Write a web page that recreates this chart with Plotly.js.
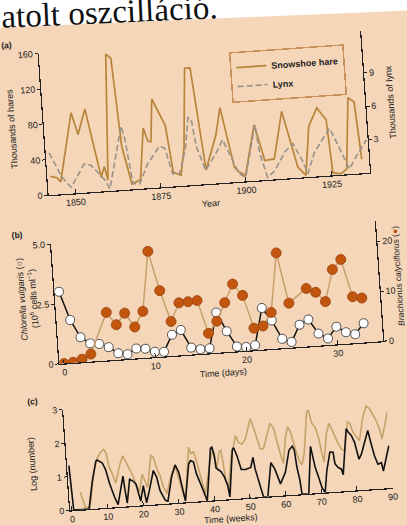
<!DOCTYPE html>
<html>
<head>
<meta charset="utf-8">
<script src="https://cdn.plot.ly/plotly-3.0.1.min.js"></script>
<style>
  html, body { margin: 0; padding: 0; width: 407px; height: 525px; overflow: hidden; background: #ffffff; }
  #chart {
    position: absolute; left: -36.5px; top: -37.5px;
    width: 480px; height: 600px;
    transform: rotate(-4deg); transform-origin: 50% 50%;
  }
</style>
</head>
<body>
<div id="chart"></div>
<script>
// (a) Snowshoe hare and lynx pelts, thousands
const hareYears = [1843, 1845, 1846, 1850.4, 1852, 1854.5, 1857.9, 1859, 1859.8, 1861.7, 1863.1, 1864.5, 1866.7, 1869.3, 1871.1, 1872.2, 1873.1, 1874.2, 1877.6, 1879, 1881.2, 1882.6, 1884.4, 1886, 1888.6, 1892.2, 1893.9, 1896.9, 1898.2, 1900, 1903.5, 1905.9, 1908.7, 1911.8, 1915.4, 1917.6, 1919.4, 1922.1, 1924.6, 1925.5, 1927.8, 1929.6, 1931.4, 1933.1, 1934.2];
const hareThousands = [21, 19, 14, 91, 66, 94, 16, 28, 12, 154, 149, 49, 6, 10, 68, 53, 52, 100, 69, 16, 12, 42, 132, 132, 16, 55, 85, 17, 11, 7, 63, 22, 23, 76, 12, 2, 57, 77, 63, 3, 1, 6, 86, 81, 16];
const lynxYears = [1843.2, 1846.2, 1847.6, 1849, 1850.8, 1853.1, 1855.1, 1857.1, 1859, 1860.2, 1862.2, 1864.7, 1865.6, 1867, 1869, 1871.7, 1875.5, 1877, 1878.8, 1880.8, 1882.9, 1884.4, 1885.3, 1886.2, 1888.5, 1892.4, 1894, 1896.5, 1898.2, 1900, 1903.7, 1904.6, 1906.4, 1908.7, 1911.9, 1914.4, 1916.9, 1918.2, 1920.4, 1922.9, 1925.4, 1927, 1928.9, 1930.4, 1932.5, 1935.1, 1936];
const lynxThousands = [3.8, 1.7, 1.05, 0.57, 1.45, 2.57, 2.44, 1.63, 0.97, 0.18, 2.74, 5.76, 4.5, 0.5, 0.45, 2.2, 3.7, 3.5, 1.15, 1.1, 3.2, 6.1, 5.9, 3.45, 1.25, 3.0, 3.9, 2.0, 0.73, 0.38, 5.0, 2.4, 0.23, 0.8, 2.4, 3.1, 1.5, 0.3, 2.1, 3.2, 4.25, 3.1, 1.7, 0.46, 1.5, 2.66, 3.0];

// (b) Chlorella (10^6 cells/ml) and Brachionus, daily samples
const chlorellaDays = [0, 1, 2, 3, 4, 5, 6, 7, 8, 9, 10, 11, 12, 13, 14, 15, 16, 17, 18, 19, 20, 21, 22, 23, 24, 25, 26, 27, 28, 29, 30, 31, 32, 33];
const chlorellaCells = [3.0, 1.79, 1.04, 0.76, 0.71, 0.55, 0.27, 0.2, 0.41, 0.38, 0.22, 0.2, 0.88, 1.05, 0.29, 0.2, 0.21, 1.68, 0.87, 0.2, 0.16, 0.2, 1.73, 1.18, 0.39, 0.23, 0.93, 1.12, 0.51, 0.27, 0.74, 0.48, 0.37, 0.8];
const brachionusDays = [0, 1, 2, 3, 5, 6, 7, 8, 9, 10, 11, 12, 13, 14, 15, 16, 17, 18, 19, 20, 21, 22, 23, 24, 25, 27, 28, 29, 30, 31, 32, 33];
const brachionusCount = [0, 0.1, 0.6, 1.5, 9.6, 7.0, 9.2, 6.3, 9.3, 21.2, 13.2, 6.9, 10.5, 10.6, 10.7, 4.0, 6.3, 9.9, 13.5, 11.1, 4.4, 4.7, 7.3, 19.1, 8.9, 11.6, 10.7, 8.7, 15.0, 16.9, 9.3, 8.9];

// (c) host and parasitoid, log numbers by week
const hostWeeks = [2.7, 3.5, 3.8, 5.1, 6.9, 7.9, 8.9, 10.0, 10.6, 11.2, 12.0, 12.8, 14.1, 15.2, 16.1, 16.9, 17.7, 18.5, 19.3, 20.3, 20.9, 21.6, 23.1, 23.7, 24.5, 25.3, 26.0, 26.9, 28.1, 29.6, 30.3, 31.0, 31.6, 32.0, 33.8, 34.3, 35.1, 35.7, 36.9, 37.6, 39.6, 40.6, 41.3, 42.3, 42.8, 43.2, 43.6, 44.2, 45.5, 46.4, 47.1, 47.9, 48.8, 49.8, 51.0, 51.6, 52.4, 53.1, 53.8, 54.7, 55.9, 57.0, 57.9, 58.6, 59.3, 60.0, 61.1, 61.9, 62.5, 63.1, 63.8, 64.6, 65.2, 66.0, 67.5, 68.0, 68.7, 69.5, 70.3, 70.9, 71.4, 72.6, 73.5, 74.1, 74.9, 75.7, 76.5, 77.4, 78.7, 79.3, 80.0, 80.9, 81.7, 83.1, 84.2, 85.1, 85.9, 86.7, 87.5, 88.0, 89.2, 90.0];
const hostLog = [0.52, 0.21, 0.06, 0.05, 1.1, 1.45, 1.64, 1.74, 1.63, 1.23, 0.97, 0.72, 1.21, 1.51, 1.3, 1.1, 0.89, 0.59, 0.43, 0.93, 0.73, 0.52, 1.47, 1.41, 1.06, 0.85, 0.5, 0.3, 0.74, 1.13, 0.8, 0.45, 0.2, 0.12, 1.63, 1.43, 1.48, 1.22, 0.51, 0.21, 1.2, 1.5, 0.95, 1.44, 1.47, 0.88, 0.58, 0.28, 1.27, 1.57, 1.87, 1.66, 1.61, 1.75, 2.15, 2.35, 2.04, 1.74, 1.43, 1.43, 1.82, 2.17, 2.01, 1.61, 1.25, 0.95, 1.74, 2.03, 1.88, 1.62, 1.26, 0.96, 0.88, 1.2, 2.44, 2.47, 2.08, 1.97, 1.66, 1.21, 0.9, 1.75, 2.04, 1.89, 1.63, 1.42, 1.26, 1.2, 2.05, 2.0, 1.74, 1.58, 1.47, 2.17, 2.48, 2.4, 2.24, 2.04, 1.78, 1.47, 1.92, 2.26];
const parasitoidWeeks = [0, 0.5, 4.8, 6.2, 7.6, 8.0, 9.4, 10.2, 11.0, 12.1, 13.0, 14.9, 15.2, 15.6, 16.7, 17.6, 18.4, 18.9, 19.4, 20.4, 20.7, 21.0, 22.0, 23.5, 24.3, 25.0, 26.3, 27.0, 28.5, 29.7, 30.6, 31.9, 33.5, 34.1, 34.9, 35.5, 36.8, 37.6, 38.0, 39.9, 40.3, 40.8, 41.1, 41.8, 42.4, 43.2, 44.0, 44.4, 46.0, 46.4, 47.2, 48.1, 49.3, 50.8, 51.6, 52.0, 53.1, 53.8, 55.0, 56.5, 57.5, 58.3, 58.8, 60.4, 61.8, 62.8, 63.3, 63.7, 64.3, 64.6, 66.5, 67.9, 68.2, 68.8, 69.6, 70.3, 71.1, 72.0, 73.2, 74.1, 74.4, 75.2, 76.1, 76.5, 78.2, 78.7, 79.5, 80.3, 81.2, 82.0, 83.1, 84.2, 84.9, 85.6, 86.4, 87.4, 87.8, 88.8, 89.8];
const parasitoidLog = [1.33, 0, 0, 0.8, 1.4, 1.44, 1.34, 1.13, 0.73, 0.32, 0.07, 0.91, 0.5, 0.1, 0.8, 0.74, 0.64, 0.33, 0.13, 0.58, 0.33, 0.07, 0.42, 1.01, 0.81, 0.4, 0.1, 0.07, 0.79, 1.13, 0.9, 0.04, 1.13, 1.23, 1.18, 0.82, 0.41, 0.11, 0, 1.55, 1.58, 1.35, 0.95, 0.89, 0.84, 0.68, 0.43, 0.07, 1.47, 1.52, 1.26, 0.86, 0.85, 0.9, 1.19, 0.84, 0.33, 0, 0, 1.0, 0.8, 0.5, 0.35, 0.69, 1.33, 1.44, 1.32, 0.81, 0.41, 0, 0, 1.4, 1.18, 0.77, 0.46, 0.16, 0, 0.65, 1.19, 1.18, 0.83, 0.72, 0.66, 0.49, 1.85, 1.75, 1.64, 1.43, 0.92, 1.07, 1.41, 1.75, 1.35, 0.99, 0.73, 0.77, 0.52, 0.91, 1.26];

// The figure sheet is drawn tilted; this maps a point on the page (px)
// into paper coordinates of the tilted figure.
const FIG_W = 480, FIG_H = 600, TILT = -4;
const PAGE_CX = 203.5, PAGE_CY = 262.5;
function pagePos(x, y) {
  const a = -TILT * Math.PI / 180;
  const dx = x - PAGE_CX, dy = y - PAGE_CY;
  const ux = Math.cos(a) * dx - Math.sin(a) * dy + FIG_W / 2;
  const uy = Math.sin(a) * dx + Math.cos(a) * dy + FIG_H / 2;
  return [ux / FIG_W, 1 - uy / FIG_H];
}

const INK = '#222222';
const SANS = 'Liberation Sans, Arial, sans-serif';
const PEACH = '#f5d6b8';
const HARE = '#b8853a';
const LYNX = '#99928a';
const ROTIFER = '#c2560f';

const traces = [
  { x: hareYears, y: hareThousands, xaxis: 'x', yaxis: 'y', type: 'scatter', mode: 'lines',
    name: 'Snowshoe hare', line: { color: HARE, width: 1.7 } },
  { x: lynxYears, y: lynxThousands, xaxis: 'x', yaxis: 'y2', type: 'scatter', mode: 'lines',
    name: 'Lynx', line: { color: LYNX, width: 1.6, dash: '6px,3px' } },
  { x: chlorellaDays, y: chlorellaCells, xaxis: 'x2', yaxis: 'y3', type: 'scatter', mode: 'lines+markers',
    showlegend: false, line: { color: '#111', width: 1.5 },
    marker: { symbol: 'circle', size: 9, color: '#ffffff', line: { color: '#555', width: 1 } } },
  { x: brachionusDays, y: brachionusCount, xaxis: 'x2', yaxis: 'y4', type: 'scatter', mode: 'lines+markers',
    showlegend: false, line: { color: '#c9a06c', width: 1.5 },
    marker: { symbol: 'circle', size: 10, color: ROTIFER, line: { color: '#9a4410', width: 0.8 } } },
  { x: hostWeeks, y: hostLog, xaxis: 'x3', yaxis: 'y5', type: 'scatter', mode: 'lines',
    showlegend: false, line: { color: '#c7a36b', width: 1.6 } },
  { x: parasitoidWeeks, y: parasitoidLog, xaxis: 'x3', yaxis: 'y5', type: 'scatter', mode: 'lines',
    showlegend: false, line: { color: '#111111', width: 1.6 } }
];

const axisBase = {
  showline: true, linecolor: INK, linewidth: 1.2,
  showgrid: false, zeroline: false,
  ticks: 'inside', ticklen: 4, tickwidth: 1, tickcolor: INK,
  tickfont: { family: SANS, size: 9, color: INK }
};
const yBase = Object.assign({}, axisBase, { ticks: 'outside', ticklen: 3 });

// peach card behind the panels
const cardPts = [pagePos(-100, 31.2), pagePos(520, 5.3), pagePos(560, 800), pagePos(-140, 800)];
const cardPath = 'M ' + cardPts.map(p => p[0] + ',' + p[1]).join(' L ') + ' Z';

function note(text, px, py, opts) {
  const p = pagePos(px, py);
  return Object.assign({
    text: text, x: p[0], y: p[1], xref: 'paper', yref: 'paper',
    showarrow: false, xanchor: 'center', yanchor: 'middle',
    font: { family: SANS, size: 9, color: INK }
  }, opts || {});
}

const annotations = [
  note('atolt oszcilláció.', -1, 19, { xanchor: 'left', textangle: 1.4,
    font: { family: 'Liberation Serif, Times New Roman, serif', size: 33, color: '#111' } }),
  note('(a)', 6, 45, { font: { family: SANS, size: 8.5, color: INK, weight: 'bold' } }),
  note('(b)', 17, 234, { font: { family: SANS, size: 8.5, color: INK, weight: 'bold' } }),
  note('(c)', 32, 401, { font: { family: SANS, size: 8.5, color: INK, weight: 'bold' } }),
  note('Thousands of hares', 12, 128, { textangle: -90 }),
  note('Thousands of lynx', 390, 101, { textangle: -90 }),
  note('Year', 210, 203),
  note('<i>Chlorella vulgaris</i> (○)<br>(10<sup>6</sup> cells ml<sup>−1</sup>)', 27.5, 298, { textangle: -90 }),
  note('<i>Brachionus calyciflorus</i> (<span style="color:' + ROTIFER + '">●</span>)', 397.5, 276,
    { textangle: -90, font: { family: SANS, size: 8.5, color: INK } }),
  note('Time (days)', 223, 372),
  note('Log (number)', 31.7, 464, { textangle: -90 }),
  note('Time (weeks)', 230, 518)
];

const legendPos = pagePos(228.3, 51.7);

const layout = {
  width: FIG_W, height: FIG_H,
  margin: { l: 0, r: 0, t: 0, b: 0 },
  paper_bgcolor: '#ffffff',
  plot_bgcolor: '#ffffff',
  font: { family: SANS, size: 9, color: INK },
  showlegend: true,
  legend: {
    x: legendPos[0], y: legendPos[1], xanchor: 'left', yanchor: 'top',
    bgcolor: PEACH, bordercolor: '#c8925a', borderwidth: 1.5,
    font: { family: SANS, size: 9, color: INK, weight: 'bold' },
    itemwidth: 30, tracegroupgap: 0
  },
  shapes: [
    { type: 'path', xref: 'paper', yref: 'paper', path: cardPath,
      fillcolor: PEACH, line: { width: 0 }, layer: 'below' }
  ],
  annotations: annotations,

  xaxis: Object.assign({}, axisBase, { domain: [0.187, 0.858], anchor: 'y',
    range: [1842.2, 1936.3], tickvals: [1850, 1875, 1900, 1925] }),
  yaxis: Object.assign({}, yBase, { domain: [0.6308, 0.8675], anchor: 'x',
    range: [0, 160], tickvals: [0, 40, 80, 120, 160] }),
  yaxis2: Object.assign({}, yBase, { overlaying: 'y', side: 'right', anchor: 'x',
    range: [0, 12.8], tickvals: [3, 6, 9] }),

  xaxis2: Object.assign({}, axisBase, { domain: [0.185, 0.861], anchor: 'y3',
    range: [-0.5, 35], tickvals: [0, 10, 20, 30] }),
  yaxis3: Object.assign({}, yBase, { domain: [0.3492, 0.5492], anchor: 'x2',
    range: [0, 5], tickvals: [0, 2.5, 5], ticktext: ['0', '2.5', '5.0'] }),
  yaxis4: Object.assign({}, yBase, { overlaying: 'y3', side: 'right', anchor: 'x2',
    range: [0, 24], tickvals: [0, 10, 20] }),

  xaxis3: Object.assign({}, axisBase, { domain: [0.186, 0.859], anchor: 'y5',
    range: [-0.5, 90], tickvals: [0, 10, 20, 30, 40, 50, 60, 70, 80, 90] }),
  yaxis5: Object.assign({}, yBase, { domain: [0.1042, 0.2725], anchor: 'x3',
    range: [0, 3], tickvals: [0, 1, 2, 3] })
};

Plotly.newPlot('chart', traces, layout, { staticPlot: true, displayModeBar: false });
</script>
</body>
</html>
